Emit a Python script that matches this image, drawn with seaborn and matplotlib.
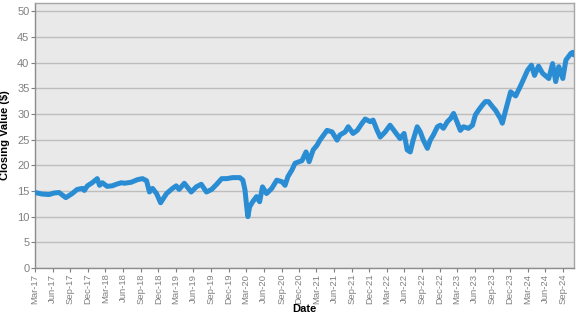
import matplotlib
matplotlib.use("Agg")
import matplotlib.pyplot as plt
import matplotlib.dates as mdates
import seaborn as sns
import pandas as pd

dates = [
    "2017-03-01", "2017-04-07", "2017-05-13", "2017-06-08", "2017-07-04", "2017-08-08",
    "2017-09-10", "2017-10-06", "2017-11-02", "2017-11-12", "2017-11-28", "2017-12-23",
    "2018-01-18", "2018-01-30", "2018-02-14", "2018-03-10", "2018-04-06", "2018-04-27",
    "2018-05-23", "2018-06-08", "2018-07-14", "2018-08-15", "2018-09-10", "2018-10-01",
    "2018-10-16", "2018-11-01", "2018-11-22", "2018-12-13", "2019-01-13", "2019-02-13",
    "2019-03-04", "2019-03-19", "2019-04-15", "2019-05-21", "2019-06-16", "2019-07-12",
    "2019-08-08", "2019-09-04", "2019-09-30", "2019-10-26", "2019-11-21", "2019-12-22",
    "2020-01-28", "2020-02-13", "2020-02-24", "2020-03-04", "2020-03-10", "2020-03-19",
    "2020-04-04", "2020-04-24", "2020-05-10", "2020-05-25", "2020-06-15", "2020-07-12",
    "2020-08-07", "2020-09-03", "2020-09-19", "2020-10-04", "2020-10-25", "2020-11-10",
    "2020-12-16", "2021-01-06", "2021-01-22", "2021-02-12", "2021-03-04", "2021-03-19",
    "2021-04-25", "2021-05-21", "2021-06-16", "2021-07-01", "2021-07-28", "2021-08-13",
    "2021-09-07", "2021-09-29", "2021-10-24", "2021-11-09", "2021-12-05", "2021-12-20",
    "2022-01-10", "2022-01-26", "2022-02-21", "2022-03-18", "2022-04-13", "2022-05-09",
    "2022-05-30", "2022-06-15", "2022-07-01", "2022-07-16", "2022-08-06", "2022-08-22",
    "2022-09-07", "2022-09-28", "2022-10-13", "2022-10-29", "2022-11-19", "2022-12-04",
    "2022-12-20", "2023-01-10", "2023-01-26", "2023-02-11", "2023-03-03", "2023-03-18",
    "2023-04-03", "2023-04-29", "2023-05-20", "2023-06-04", "2023-06-20", "2023-07-10",
    "2023-07-26", "2023-08-11", "2023-09-01", "2023-09-17", "2023-10-12", "2023-10-22",
    "2023-11-08", "2023-12-04", "2023-12-30", "2024-01-25", "2024-03-01", "2024-03-21",
    "2024-04-06", "2024-04-27", "2024-05-18", "2024-06-19", "2024-07-09", "2024-07-25",
    "2024-08-10", "2024-08-31", "2024-09-16", "2024-10-12", "2024-10-22", "2024-10-27",
]
closing = [
    14.7, 14.4, 14.3, 14.6, 14.7, 13.7,
    14.5, 15.3, 15.5, 15.1, 16.0, 16.6,
    17.4, 16.1, 16.6, 15.9, 16.0, 16.3,
    16.6, 16.5, 16.7, 17.2, 17.4, 17.0,
    14.8, 15.5, 14.5, 12.7, 14.5, 15.5,
    16.0, 15.3, 16.5, 14.8, 15.8, 16.3,
    14.8, 15.3, 16.3, 17.4, 17.4, 17.6,
    17.6, 17.1, 15.2, 11.9, 10.0, 11.9,
    12.9, 13.9, 12.9, 15.8, 14.5, 15.5,
    17.1, 16.8, 16.1, 17.8, 19.1, 20.4,
    20.9, 22.6, 20.7, 23.0, 23.9, 24.9,
    26.8, 26.5, 24.9, 25.9, 26.5, 27.5,
    26.2, 26.8, 28.2, 29.0, 28.5, 28.8,
    26.8, 25.5, 26.5, 27.8, 26.5, 25.2,
    26.2, 23.0, 22.6, 24.9, 27.5, 26.5,
    24.9, 23.3, 24.9, 25.9, 27.5, 27.8,
    27.2, 28.5, 29.1, 30.1, 28.2, 26.8,
    27.5, 27.2, 27.8, 29.8, 30.7, 31.7,
    32.4, 32.4, 31.4, 30.7, 29.1, 28.2,
    30.7, 34.3, 33.5, 35.5, 38.5, 39.5,
    37.5, 39.3, 37.9, 36.9, 39.8, 36.3,
    39.2, 36.9, 40.5, 41.8, 42.0, 41.5,
]
y_ticks = [0, 5, 10, 15, 20, 25, 30, 35, 40, 45, 50]
x_title = "Date"
y_title = "Closing Value ($)"

df = pd.DataFrame({"Date": pd.to_datetime(dates), "Close": closing})

sns.set_style("white")
plt.rcParams["font.family"] = ["Liberation Sans", "DejaVu Sans"]

fig = plt.figure(figsize=(5.77, 3.15), dpi=100)
ax = fig.add_axes([35 / 577, (315 - 268) / 315, 539 / 577, 265 / 315])
ax.set_facecolor("#E9E9E9")

sns.lineplot(data=df, x="Date", y="Close", ax=ax, color="#2A8DD4", linewidth=3.6, zorder=3)

ax.set_ylim(0, 51.6)
ax.set_yticks(y_ticks)
ax.set_xlim(pd.Timestamp("2017-03-01"), pd.Timestamp("2024-10-28"))
ax.xaxis.set_major_locator(mdates.MonthLocator(bymonth=[3, 6, 9, 12], bymonthday=1))
ax.xaxis.set_major_formatter(mdates.DateFormatter("%b-%y"))

ax.grid(axis="y", color="#BDBDBD", linewidth=1.0, zorder=0)
ax.grid(axis="x", visible=False)
ax.set_axisbelow(True)

for s in ax.spines.values():
    s.set_color("#A6A6A6")
    s.set_linewidth(1.0)
ax.spines["left"].set_color("#8C8C8C")
ax.spines["bottom"].set_color("#8C8C8C")

ax.tick_params(axis="y", colors="#7F7F7F", labelsize=8, length=3, width=0.8, pad=1, direction="out", left=True)
ax.tick_params(axis="x", colors="#7F7F7F", labelsize=6.8, length=3, width=0.8, pad=1, direction="out", bottom=True, labelrotation=90)
for lbl in ax.get_yticklabels() + ax.get_xticklabels():
    lbl.set_color("#808080")

ax.set_xlabel(x_title, fontsize=8, fontweight="bold", color="black", labelpad=0)
ax.set_ylabel(y_title, fontsize=8, fontweight="bold", color="black", labelpad=5)

fig.savefig("out.png", dpi=100, facecolor="white")
